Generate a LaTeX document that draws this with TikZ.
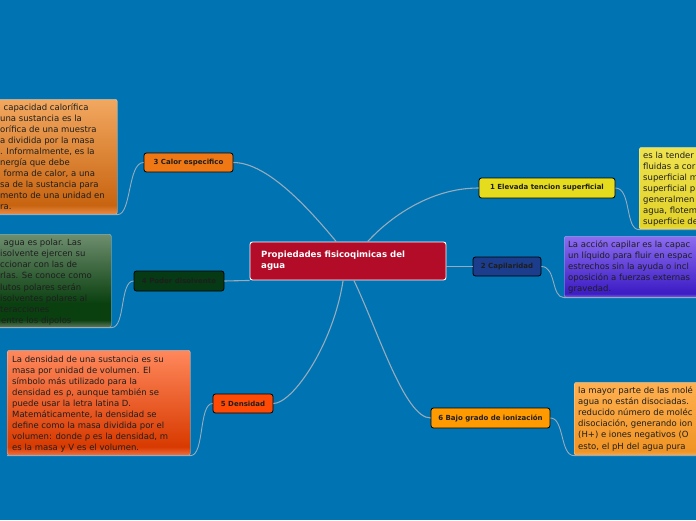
\documentclass[tikz,border=0pt]{standalone}
\usepackage{fontspec}
\setmainfont{DejaVu Sans}
\usetikzlibrary{calc}
\definecolor{bg}{RGB}{0,115,178}
\definecolor{connc}{RGB}{150,172,188}
\definecolor{centerc}{RGB}{178,12,40}
\definecolor{tyellow}{RGB}{230,220,30}
\definecolor{tnavy}{RGB}{28,60,140}
\definecolor{torange}{RGB}{240,120,20}
\definecolor{tgreen}{RGB}{5,58,20}
\definecolor{tred}{RGB}{255,74,5}
\definecolor{tamber}{RGB}{255,154,0}
\definecolor{txt}{RGB}{30,30,30}
% shading colours
\definecolor{yA}{RGB}{238,226,80}\definecolor{yB}{RGB}{226,210,40}\definecolor{yC}{RGB}{236,222,70}
\definecolor{pA}{RGB}{140,108,240}\definecolor{pB}{RGB}{60,28,196}\definecolor{pC}{RGB}{128,100,230}
\definecolor{oA}{RGB}{242,168,96}\definecolor{oB}{RGB}{200,100,16}\definecolor{oC}{RGB}{234,140,70}
\definecolor{gA}{RGB}{110,142,110}\definecolor{gB}{RGB}{10,64,16}\definecolor{gC}{RGB}{96,124,96}
\definecolor{rA}{RGB}{255,136,92}\definecolor{rB}{RGB}{216,58,0}\definecolor{rC}{RGB}{240,112,64}
\definecolor{aA}{RGB}{255,176,80}\definecolor{aB}{RGB}{240,148,36}\definecolor{aC}{RGB}{250,168,70}
\pgfdeclareverticalshading{shY}{100bp}{color(0bp)=(yC); color(25bp)=(yC); color(27bp)=(yB); color(75bp)=(yA); color(100bp)=(yA)}
\pgfdeclareverticalshading{shP}{100bp}{color(0bp)=(pC); color(25bp)=(pC); color(28bp)=(pB); color(75bp)=(pA); color(100bp)=(pA)}
\pgfdeclareverticalshading{shO}{100bp}{color(0bp)=(oC); color(25bp)=(oC); color(29bp)=(oB); color(75bp)=(oA); color(100bp)=(oA)}
\pgfdeclareverticalshading{shG}{100bp}{color(0bp)=(gC); color(25bp)=(gC); color(29bp)=(gB); color(38bp)=(gB); color(75bp)=(gA); color(100bp)=(gA)}
\pgfdeclareverticalshading{shR}{100bp}{color(0bp)=(rC); color(25bp)=(rC); color(29bp)=(rB); color(75bp)=(rA); color(100bp)=(rA)}
\pgfdeclareverticalshading{shA}{100bp}{color(0bp)=(aC); color(25bp)=(aC); color(28bp)=(aB); color(75bp)=(aA); color(100bp)=(aA)}
\tikzset{
  conn/.style={draw=connc, line width=1.1pt},
  subconn/.style={draw=connc, line width=0.9pt},
  topic/.style={draw=black, line width=0.8pt, rounded corners=2.5pt, inner sep=0pt,
    font=\fontsize{7}{8}\selectfont\bfseries, text=txt, anchor=center},
  tbox/.style={draw=white, draw opacity=0.35, line width=0.6pt, rounded corners=2pt,
    inner sep=0pt, anchor=north west},
  btext/.style={anchor=north west, inner sep=0pt, align=left, text=txt,
    font=\fontsize{8.5}{11.1}\selectfont},
}
\begin{document}
\begin{tikzpicture}[x=1pt,y=-1pt]
\fill[bg] (0,0) rectangle (696,520);
\useasboundingbox (0,0) rectangle (696,520);
\clip (0,0) rectangle (696,520);

% central node
\node[draw=white, line width=0.9pt, rounded corners=2.5pt, fill=centerc,
  minimum width=196pt, minimum height=38pt, inner sep=0pt] (C) at (348,261) {};
\node[anchor=north west, inner sep=0pt, align=left, text=white,
  font=\fontsize{8.6}{11}\selectfont\bfseries] (Ct) at (261,251) {Propiedades fisicoqimicas del\\agua};

% topic nodes
\node[topic, fill=tyellow, minimum width=136pt, minimum height=20pt] (T1) at (547,188) {1 Elevada tencion superficial};
\node[topic, fill=tnavy, minimum width=68pt, minimum height=19pt] (T2) at (507,266.5) {2 Capilaridad};
\node[topic, fill=torange, minimum width=89pt, minimum height=19pt] (T3) at (188.5,162.5) {3 Calor especifico};
\node[topic, fill=tgreen, minimum width=90pt, minimum height=20pt] (T4) at (179,281) {4 Poder disolvente};
\node[topic, fill=tred, minimum width=60pt, minimum height=19pt] (T5) at (243,403.5) {5 Densidad};
\node[topic, fill=tamber, minimum width=119pt, minimum height=20pt] (T6) at (490.5,418) {6 Bajo grado de ionización};

% text boxes
\node[tbox, shading=shY, minimum width=70pt, minimum height=82pt] (B1) at (639,147) {};
\node[tbox, shading=shP, minimum width=140pt, minimum height=61pt] (B2) at (564,236) {};
\node[tbox, shading=shO, minimum width=177pt, minimum height=115pt] (B3) at (-60,99) {};
\node[tbox, shading=shG, minimum width=171pt, minimum height=93pt] (B4) at (-60,234) {};
\node[tbox, shading=shR, minimum width=183pt, minimum height=105pt] (B5) at (7,350) {};
\node[tbox, shading=shA, minimum width=130pt, minimum height=73pt] (B6) at (574,382) {};

\node[btext] (X1) at (643,151.5) {es la tender\\fluidas a cor\\superficial m\\superficial p\\generalmen\\agua, flotem\\superficie de};
\node[btext] (X2) at (568,240.5) {La acción capilar es la capac\\un líquido para fluir en espac\\estrechos sin la ayuda o incl\\oposición a fuerzas externas\\gravedad.};
\node[btext] (X3) at (0,103) {\hspace*{3.5pt}capacidad calorífica\\una sustancia es la\\orífica de una muestra\\a dividida por la masa\\. Informalmente, es la\\nergía que debe\\\hspace*{3.5pt}forma de calor, a una\\sa de la sustancia para\\mento de una unidad en\\ra.};
\node[btext] (X4) at (0,239) {\hspace*{3.5pt}agua es polar. Las\\isolvente ejercen su\\ccionar con las de\\rlas. Se conoce como\\lutos polares serán\\isolventes polares al\\teracciones\\\hspace*{1pt}entre los dipolos};
\node[btext] (X5) at (12,355.5) {La densidad de una sustancia es su\\masa por unidad de volumen. El\\símbolo más utilizado para la\\densidad es ρ, aunque también se\\puede usar la letra latina D.\\Matemáticamente, la densidad se\\define como la masa dividida por el\\volumen: donde ρ es la densidad, m\\es la masa y V es el volumen.};
\node[btext] (X6) at (578,386.5) {la mayor parte de las molé\\agua no están disociadas.\\reducido número de moléc\\disociación, generando ion\\(H+) e iones negativos (O\\esto, el pH del agua pura};

% main connectors
\coordinate (c3) at ($(C.north west)!0.44!(C.north east)$);
\coordinate (c1) at ($(C.north west)!0.60!(C.north east)$);
\coordinate (c5) at ($(C.south west)!0.475!(C.south east)$);
\coordinate (c6) at ($(C.south west)!0.53!(C.south east)$);
\draw[conn] (c3) .. controls +(-25,-30) and +(35,0) .. (T3.east);
\draw[conn] (c1) .. controls +(20,-22) and +(-50,0) .. (T1.west);
\draw[conn] (c5) .. controls +(-10,65) and +(19,0) .. (T5.east);
\draw[conn] (c6) .. controls +(24,50) and +(-26,0) .. (T6.west);
\draw[conn] (T4.east) -- (C.south west);
\draw[conn] (T2.west) -- (C.east |- T2.west);

% sub connectors with underline
\draw[subconn] (T1.east) .. controls +(16,0) and +(-14,0) .. (B1.south west) -- (B1.south east);
\draw[subconn] (T2.east) .. controls +(15,0) and +(-13,0) .. (B2.south west) -- (B2.south east);
\draw[subconn] (T3.west) .. controls +(-16,0) and +(14,0) .. (B3.south east) -- (B3.south west);
\draw[subconn] (T4.west) .. controls +(-14,0) and +(14,0) .. (B4.south east) -- (B4.south west);
\draw[subconn] (T5.west) .. controls +(-14,0) and +(14,0) .. (B5.south east) -- (B5.south west);
\draw[subconn] (T6.east) .. controls +(14,0) and +(-14,0) .. (B6.south west) -- (B6.south east);
\end{tikzpicture}
\end{document}
